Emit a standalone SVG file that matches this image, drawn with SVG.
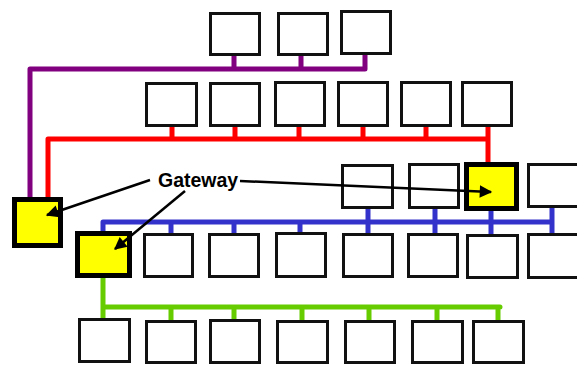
<svg xmlns="http://www.w3.org/2000/svg" width="577" height="365" viewBox="0 0 577 365">
  <style>
    .box { fill: #ffffff; stroke: #111111; stroke-width: 3; }
    .gw { fill: #ffff00; stroke: #000000; stroke-width: 5; }
    .bus { fill: none; stroke-width: 5; stroke-linecap: round; stroke-linejoin: round; }
    .purple { stroke: #800080; }
    .red { stroke: #ff0000; }
    .blue { stroke: #3333cc; }
    .green { stroke: #66cc00; }
    .ptr { fill: none; stroke: #000000; stroke-width: 2.5; marker-end: url(#head); }
    .label { font-family: "Liberation Sans", Arial, sans-serif; font-weight: bold; font-size: 19.5px; fill: #000000; }
  </style>
  <defs>
    <marker id="head" viewBox="0 0 10 10" refX="9" refY="5" markerWidth="6" markerHeight="5" orient="auto" markerUnits="strokeWidth">
      <path d="M0,0 L10,5 L0,10 Z" fill="#000000"/>
    </marker>
  </defs>

  <!-- bus connectors -->
  <g id="connectors">
    <!-- purple bus -->
    <path class="bus purple" d="M30,197 V69 H365 M234,56 V69 M301,56 V69 M365,55 V69"/>
    <!-- red bus -->
    <path class="bus red" d="M48,197 V139 H488 V163 M172,127 V139 M235,127 V139 M299,127 V139 M363,127 V139 M426,127 V139 M488,127 V139"/>
    <!-- blue bus -->
    <path class="bus blue" d="M103,232 V222 H552 M552,207 V236 M171,222 V233 M234,222 V233 M300,222 V232 M368,209 V235 M435,209 V234 M491,210 V235"/>
    <!-- green bus -->
    <path class="bus green" d="M103,278 V318 M103,307 H500 M171,307 V320 M234,307 V319 M302,307 V320 M369,307 V320 M437,307 V320 M498,307 V320"/>
  </g>

  <!-- plain nodes -->
  <g id="a1"><rect class="box" x="210.5" y="13.5" width="49" height="41"/></g>
  <g id="a2"><rect class="box" x="278.5" y="13.5" width="49" height="41"/></g>
  <g id="a3"><rect class="box" x="341.5" y="11.5" width="49" height="42"/></g>

  <g id="b1"><rect class="box" x="146.5" y="83.5" width="50" height="42"/></g>
  <g id="b2"><rect class="box" x="210.5" y="83.5" width="49" height="42"/></g>
  <g id="b3"><rect class="box" x="275.5" y="82.5" width="49" height="43"/></g>
  <g id="b4"><rect class="box" x="338.5" y="82.5" width="49" height="43"/></g>
  <g id="b5"><rect class="box" x="401.5" y="82.5" width="49" height="43"/></g>
  <g id="b6"><rect class="box" x="462.5" y="82.5" width="49" height="43"/></g>

  <g id="c1"><rect class="box" x="342.5" y="165.5" width="50" height="42"/></g>
  <g id="c2"><rect class="box" x="409.5" y="164.5" width="49" height="43"/></g>
  <g id="c3"><rect class="box" x="528.5" y="164.5" width="52" height="42"/></g>

  <g id="d1"><rect class="box" x="144.5" y="234.5" width="48" height="42"/></g>
  <g id="d2"><rect class="box" x="209.5" y="234.5" width="49" height="42"/></g>
  <g id="d3"><rect class="box" x="276.5" y="233.5" width="49" height="43"/></g>
  <g id="d4"><rect class="box" x="343.5" y="234.5" width="49" height="42"/></g>
  <g id="d5"><rect class="box" x="408.5" y="234.5" width="49" height="42"/></g>
  <g id="d6"><rect class="box" x="467.5" y="235.5" width="50" height="42"/></g>
  <g id="d7"><rect class="box" x="528.5" y="234.5" width="52" height="43"/></g>

  <g id="e1"><rect class="box" x="79.5" y="319.5" width="50" height="42"/></g>
  <g id="e2"><rect class="box" x="146.5" y="321.5" width="49" height="41"/></g>
  <g id="e3"><rect class="box" x="210.5" y="320.5" width="49" height="42"/></g>
  <g id="e4"><rect class="box" x="277.5" y="321.5" width="50" height="41"/></g>
  <g id="e5"><rect class="box" x="345.5" y="321.5" width="49" height="41"/></g>
  <g id="e6"><rect class="box" x="412.5" y="321.5" width="50" height="41"/></g>
  <g id="e7"><rect class="box" x="473.5" y="321.5" width="50" height="41"/></g>

  <!-- gateway nodes -->
  <g id="gateway1"><rect class="gw" x="14.5" y="199.5" width="46" height="46"/></g>
  <g id="gateway2"><rect class="gw" x="77.5" y="233.5" width="52" height="42"/></g>
  <g id="gateway3"><rect class="gw" x="466.5" y="164.5" width="50" height="44"/></g>

  <!-- label with pointers -->
  <g id="gateway-label">
    <text class="label" x="158" y="187">Gateway</text>
    <path class="ptr" d="M150,180 L47,215"/>
    <path class="ptr" d="M185,191 L115,249"/>
    <path class="ptr" d="M240,181 L491,192"/>
  </g>
</svg>
